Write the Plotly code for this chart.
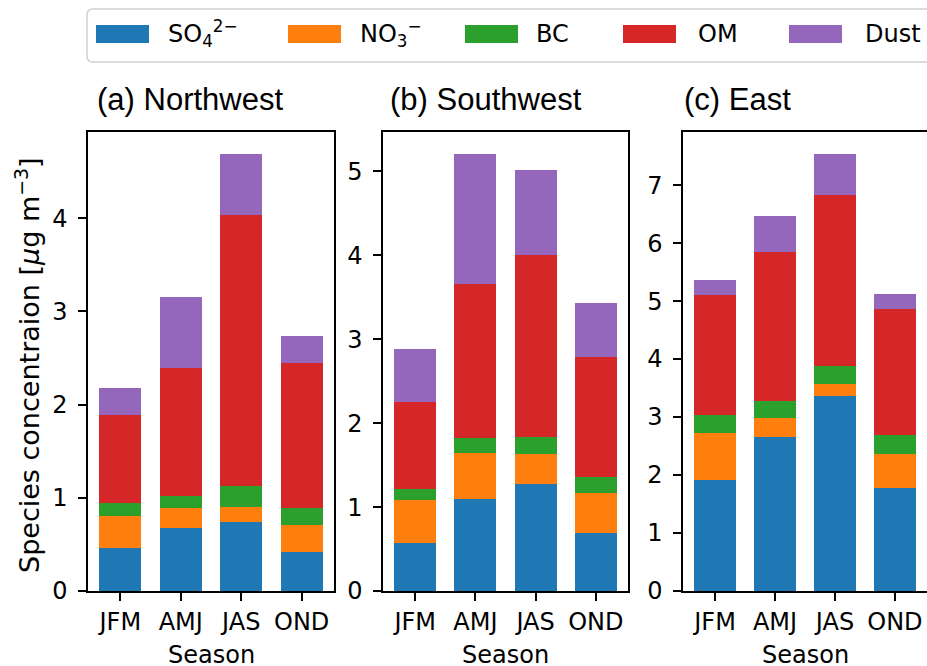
import plotly.graph_objects as go

seasons = ["JFM", "AMJ", "JAS", "OND"]
species = ["SO4", "NO3", "BC", "OM", "Dust"]
species_labels = ["SO<sub>4</sub><sup>2−</sup>", "NO<sub>3</sub><sup>−</sup>", "BC", "OM", "Dust"]
colors = ["#1f77b4", "#ff7f0e", "#2ca02c", "#d62728", "#9467bd"]

panel_titles = ["(a) Northwest", "(b) Southwest", "(c) East"]
x_title = "Season"

northwest_so4 = [0.46, 0.68, 0.74, 0.42]
northwest_no3 = [0.35, 0.21, 0.16, 0.29]
northwest_bc = [0.13, 0.13, 0.23, 0.18]
northwest_om = [0.95, 1.37, 2.90, 1.56]
northwest_dust = [0.29, 0.76, 0.66, 0.29]

southwest_so4 = [0.57, 1.10, 1.27, 0.69]
southwest_no3 = [0.51, 0.54, 0.36, 0.48]
southwest_bc = [0.14, 0.18, 0.21, 0.19]
southwest_om = [1.03, 1.84, 2.16, 1.43]
southwest_dust = [0.64, 1.55, 1.02, 0.64]

east_so4 = [1.91, 2.65, 3.37, 1.77]
east_no3 = [0.81, 0.34, 0.20, 0.60]
east_bc = [0.31, 0.28, 0.31, 0.32]
east_om = [2.07, 2.58, 2.95, 2.18]
east_dust = [0.26, 0.61, 0.71, 0.26]

panels = [
    [northwest_so4, northwest_no3, northwest_bc, northwest_om, northwest_dust],
    [southwest_so4, southwest_no3, southwest_bc, southwest_om, southwest_dust],
    [east_so4, east_no3, east_bc, east_om, east_dust],
]
yticks_max = [4, 5, 7]

W, H = 927, 666


def px(x):
    return x / W


def py(y):
    return 1 - y / H


x_domains = [(88, 334), (383, 628), (683, 927)]
y_domain = [py(591), py(132)]
title_x = [95, 388, 682]

TICK_FONT = dict(family="DejaVu Sans", size=24, color="black")

fig = go.Figure()
for p, series in enumerate(panels):
    suffix = "" if p == 0 else str(p + 1)
    for s, vals in enumerate(series):
        fig.add_trace(go.Bar(
            x=seasons, y=vals, name=species[s], width=0.7,
            marker=dict(color=colors[s], line=dict(width=0)),
            xaxis="x" + suffix, yaxis="y" + suffix, showlegend=False,
        ))

layout = dict(
    width=W, height=H, autosize=False,
    margin=dict(l=0, r=0, t=0, b=0),
    paper_bgcolor="white", plot_bgcolor="white",
    barmode="stack", showlegend=False,
)

for p, series in enumerate(panels):
    suffix = "" if p == 0 else str(p + 1)
    totals = [sum(v) for v in zip(*series)]
    ymax = max(totals) * 1.05
    x0, x1 = x_domains[p]
    layout["xaxis" + suffix] = dict(
        domain=[px(x0), min(px(x1), 1.0)], anchor="y" + suffix,
        type="category", range=[-0.535, 3.535], automargin=False,
        showline=True, mirror=True, linecolor="black", linewidth=1.5,
        ticks="outside", ticklen=8, tickwidth=1.5, tickcolor="black",
        tickfont=TICK_FONT, showgrid=False, zeroline=False,
    )
    layout["yaxis" + suffix] = dict(
        domain=y_domain, anchor="x" + suffix, automargin=False,
        range=[0, ymax], tickmode="array",
        tickvals=list(range(0, yticks_max[p] + 1)),
        showline=True, mirror=True, linecolor="black", linewidth=1.5,
        ticks="outside", ticklen=8, tickwidth=1.5, tickcolor="black",
        ticklabelstandoff=6,
        tickfont=TICK_FONT, showgrid=False, zeroline=False,
    )

fig.update_layout(**layout)

annotations = []
for p in range(3):
    annotations.append(dict(
        x=px(title_x[p]), y=py(99), xref="paper", yref="paper",
        xanchor="left", yanchor="middle", showarrow=False,
        text=panel_titles[p],
        font=dict(family="Liberation Sans", size=31, color="black"),
    ))
    x0, x1 = x_domains[p]
    annotations.append(dict(
        x=px((x0 + x1) / 2), y=py(655), xref="paper", yref="paper",
        xanchor="center", yanchor="middle", showarrow=False,
        text=x_title, font=TICK_FONT,
    ))

annotations.append(dict(
    x=px(27), y=py(365), xref="paper", yref="paper",
    xanchor="center", yanchor="middle", showarrow=False, textangle=-90,
    text="Species concentraion [<i>μ</i>g m<sup>−3</sup>]",
    font=dict(family="DejaVu Sans", size=27, color="black"),
))

# legend (manual, patch style)
shapes = []
bx0, by0, bx1, by1, r = 87, 9, 945, 62, 6
path = (f"M {px(bx0 + r)},{py(by0)} L {px(bx1 - r)},{py(by0)} "
        f"L {px(bx1)},{py(by0 + r)} L {px(bx1)},{py(by1 - r)} "
        f"L {px(bx1 - r)},{py(by1)} L {px(bx0 + r)},{py(by1)} "
        f"Q {px(bx0)},{py(by1)} {px(bx0)},{py(by1 - r)} "
        f"L {px(bx0)},{py(by0 + r)} Q {px(bx0)},{py(by0)} {px(bx0 + r)},{py(by0)} Z")
shapes.append(dict(type="path", path=path, xref="paper", yref="paper",
                   line=dict(color="#d0d0d0", width=1.5), fillcolor="white", layer="above"))

patch_x = [96, 288, 465, 623, 789]
text_x = [166, 358, 534, 696, 863]
for s in range(5):
    shapes.append(dict(type="rect", xref="paper", yref="paper",
                       x0=px(patch_x[s]), x1=px(patch_x[s] + 53),
                       y0=py(43), y1=py(25),
                       fillcolor=colors[s], line=dict(width=0), layer="above"))
    annotations.append(dict(
        x=px(text_x[s]), y=py(34), xref="paper", yref="paper",
        xanchor="left", yanchor="middle", showarrow=False,
        text=species_labels[s],
        font=dict(family="DejaVu Sans", size=24, color="black"),
    ))

fig.update_layout(annotations=annotations, shapes=shapes)
fig.write_html(
    "out.html",
    config={"displayModeBar": False},
    post_script="document.body.style.margin='0px';",
)
